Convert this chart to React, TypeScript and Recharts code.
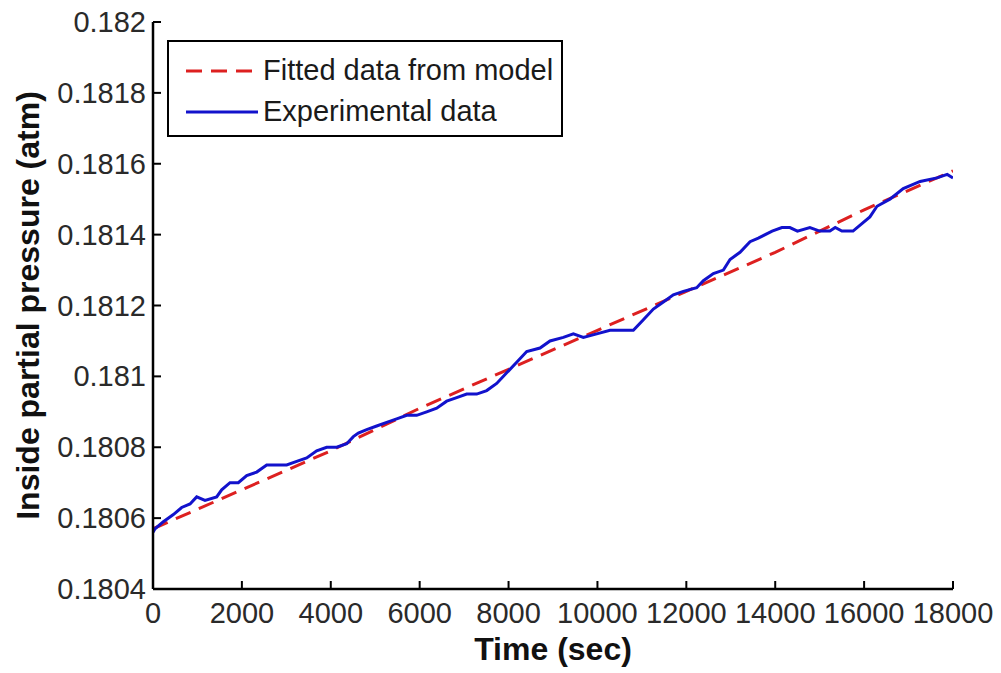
import { LineChart, Line, XAxis, YAxis, Legend, Label } from "recharts";

const expTime = [
  0, 45, 233, 458, 645, 833, 983, 1170, 1433, 1545, 1733, 1920, 2108, 2333, 2558, 2783, 3008, 3233,
  3458, 3683, 3908, 4133, 4358, 4508, 4620, 4808, 5033, 5258, 5483, 5708, 5933, 6158, 6383, 6608,
  6833, 7058, 7283, 7508, 7733, 7958, 8183, 8408, 8708, 8933, 9233, 9458, 9683, 9983, 10283, 10583,
  10808, 11033, 11258, 11483, 11708, 11933, 12233, 12383, 12608, 12833, 12983, 13208, 13433, 13620,
  13930, 14150, 14330, 14500, 14780, 15000, 15230, 15350, 15500, 15680, 15750, 16130, 16290, 16580,
  16880, 17260, 17640, 17870, 18000,
];
const expPressure = [
  0.18056, 0.18057, 0.18059, 0.18061, 0.18063, 0.18064, 0.18066, 0.18065, 0.18066, 0.18068,
  0.1807, 0.1807, 0.18072, 0.18073, 0.18075, 0.18075, 0.18075, 0.18076, 0.18077, 0.18079, 0.1808,
  0.1808, 0.18081, 0.18083, 0.18084, 0.18085, 0.18086, 0.18087, 0.18088, 0.18089, 0.18089, 0.1809,
  0.18091, 0.18093, 0.18094, 0.18095, 0.18095, 0.18096, 0.18098, 0.18101, 0.18104, 0.18107,
  0.18108, 0.1811, 0.18111, 0.18112, 0.18111, 0.18112, 0.18113, 0.18113, 0.18113, 0.18116,
  0.18119, 0.18121, 0.18123, 0.18124, 0.18125, 0.18127, 0.18129, 0.1813, 0.18133, 0.18135,
  0.18138, 0.18139, 0.18141, 0.18142, 0.18142, 0.18141, 0.18142, 0.18141, 0.18141, 0.18142,
  0.18141, 0.18141, 0.18141, 0.18145, 0.18148, 0.1815, 0.18153, 0.18155, 0.18156, 0.18157,
  0.18156,
];

// fitted model curve
const fitTime = [0, 2000, 4000, 6000, 8000, 10000, 12000, 14000, 16000, 18000];
const fitPressure = [
  0.18057, 0.18068, 0.18079, 0.18091, 0.18102, 0.18113, 0.18124, 0.18135, 0.18147, 0.18158,
];

const xTicks = [0, 2000, 4000, 6000, 8000, 10000, 12000, 14000, 16000, 18000];
const yTicks = [0.1804, 0.1806, 0.1808, 0.181, 0.1812, 0.1814, 0.1816, 0.1818, 0.182];

const seriesNames = ["Fitted data from model", "Experimental data"];

const FONT = '"Liberation Sans", Arial, Helvetica, sans-serif';
const RED = "#dd2020";
const BLUE = "#1212cc";
const TICK_LEN = 8;

const expData = expTime.map((t, i) => ({ t, p: expPressure[i] }));
const fitData = fitTime.map((t, i) => ({ t, p: fitPressure[i] }));

const tickText = { fontFamily: FONT, fontSize: 29, fill: "#2a2a2a" };

const BottomTick = ({ x, y, payload }: any) => (
  <g>
    <line x1={x} x2={x} y1={y} y2={y - TICK_LEN} stroke="#000" strokeWidth={2} />
    <text x={x} y={y + 34} textAnchor="middle" {...tickText}>
      {String(payload.value)}
    </text>
  </g>
);

const TopTick = ({ x, y }: any) => (
  <line x1={x} x2={x} y1={y} y2={y + TICK_LEN} stroke="#000" strokeWidth={2} />
);

const LeftTick = ({ x, y, payload }: any) => (
  <g>
    <line x1={x} x2={x + TICK_LEN} y1={y} y2={y} stroke="#000" strokeWidth={2} />
    <text x={x - 7} y={y + 10} textAnchor="end" {...tickText}>
      {String(payload.value)}
    </text>
  </g>
);

const RightTick = ({ x, y }: any) => (
  <line x1={x} x2={x - TICK_LEN} y1={y} y2={y} stroke="#000" strokeWidth={2} />
);

const renderLegend = () => (
  <div
    style={{
      width: 396,
      height: 97,
      border: "2px solid #000",
      background: "#fff",
      boxSizing: "border-box",
      fontFamily: FONT,
      fontSize: 29,
      color: "#1a1a1a",
      paddingTop: 8,
    }}
  >
    {seriesNames.map((name, i) => (
      <div key={name} style={{ display: "flex", alignItems: "center", height: 41 }}>
        <svg width={94} height={10}>
          <line
            x1={17}
            x2={89}
            y1={5}
            y2={5}
            stroke={i === 0 ? RED : BLUE}
            strokeWidth={3}
            strokeDasharray={i === 0 ? "16 9" : undefined}
          />
        </svg>
        <span>{name}</span>
      </div>
    ))}
  </div>
);

const YLabel = ({ viewBox }: any) => {
  const cx = viewBox.x + 28;
  const cy = viewBox.y + viewBox.height / 2;
  return (
    <text
      x={cx}
      y={cy}
      transform={`rotate(-90 ${cx} ${cy})`}
      textAnchor="middle"
      dominantBaseline="central"
      fontFamily={FONT}
      fontSize={32}
      fontWeight="bold"
      fill="#111"
    >
      Inside partial pressure (atm)
    </text>
  );
};

const XLabel = ({ viewBox }: any) => (
  <text
    x={viewBox.x + viewBox.width / 2}
    y={viewBox.y + 71}
    textAnchor="middle"
    fontFamily={FONT}
    fontSize={32}
    fontWeight="bold"
    fill="#111"
  >
    Time (sec)
  </text>
);

export default function App() {
  return (
    <div style={{ position: "absolute", left: 0, top: 0, width: 1001, height: 673, background: "#fff" }}>
      <LineChart width={1001} height={673} margin={{ top: 22, right: 48, bottom: 0, left: 0 }}>
        <XAxis
          dataKey="t"
          type="number"
          domain={[0, 18000]}
          ticks={xTicks}
          allowDataOverflow
          height={84}
          tickSize={0}
          tickMargin={0}
          tickLine={false}
          axisLine={{ stroke: "#000", strokeWidth: 2.5 }}
          tick={<BottomTick />}
          interval={0}
        >
          <Label content={<XLabel />} />
        </XAxis>
        <XAxis
          xAxisId="top"
          orientation="top"
          type="number"
          domain={[0, 18000]}
          ticks={xTicks}
          allowDataOverflow
          height={0}
          tickSize={0}
          tickMargin={0}
          tickLine={false}
          axisLine={{ stroke: "#000", strokeWidth: 2.5 }}
          tick={<TopTick />}
          interval={0}
        />
        <YAxis
          type="number"
          domain={[0.1804, 0.182]}
          ticks={yTicks}
          allowDataOverflow
          width={153}
          tickSize={0}
          tickMargin={0}
          tickLine={false}
          axisLine={{ stroke: "#000", strokeWidth: 2.5 }}
          tick={<LeftTick />}
          interval={0}
        >
          <Label content={<YLabel />} />
        </YAxis>
        <YAxis
          yAxisId="right"
          orientation="right"
          type="number"
          domain={[0.1804, 0.182]}
          ticks={yTicks}
          allowDataOverflow
          width={0}
          tickSize={0}
          tickMargin={0}
          tickLine={false}
          axisLine={{ stroke: "#000", strokeWidth: 2.5 }}
          tick={<RightTick />}
          interval={0}
        />
        <Legend
          layout="vertical"
          align="center"
          verticalAlign="middle"
          content={renderLegend}
          wrapperStyle={{ top: 40, left: 167, width: 396 }}
        />
        <Line
          data={fitData}
          dataKey="p"
          name={seriesNames[0]}
          type="linear"
          stroke={RED}
          strokeWidth={3}
          strokeDasharray="16 9"
          dot={false}
          isAnimationActive={false}
        />
        <Line
          data={expData}
          dataKey="p"
          name={seriesNames[1]}
          type="linear"
          stroke={BLUE}
          strokeWidth={3}
          dot={false}
          isAnimationActive={false}
        />
      </LineChart>
    </div>
  );
}
